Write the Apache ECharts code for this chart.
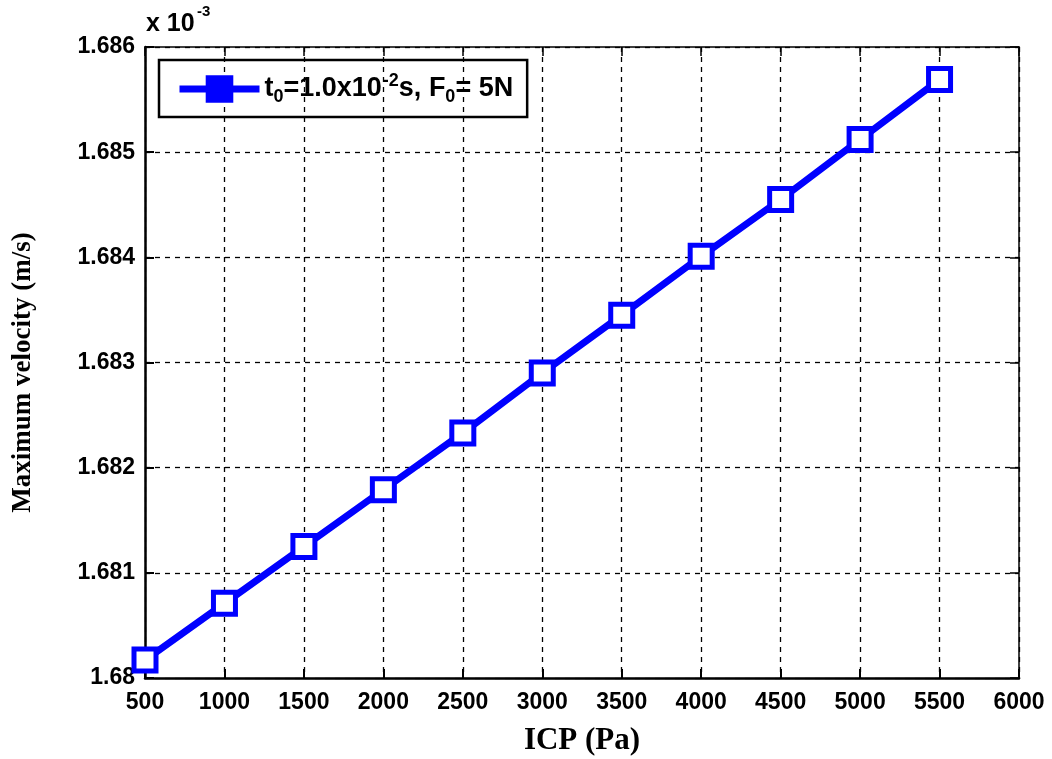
<!DOCTYPE html>
<html>
<head>
<meta charset="utf-8">
<script src="https://cdn.jsdelivr.net/npm/echarts@6/dist/echarts.min.js"></script>
<style>html,body{margin:0;padding:0;background:#fff}#c{width:1052px;height:759px}</style>
</head>
<body>
<div id="c"></div>
<script>
const icp = [500, 1000, 1500, 2000, 2500, 3000, 3500, 4000, 4500, 5000, 5500];
const maxVelocity = [1.68017, 1.68071, 1.68125, 1.68179, 1.68233, 1.68290, 1.68345, 1.68401, 1.68455, 1.68512, 1.68569];
const xTicks = [500, 6000, 500];
const yTicks = [1.680, 1.686, 0.001];
const seriesName = 'series';

const chart = echarts.init(document.getElementById('c'));
const tickFont = {color: '#000', fontFamily: 'Liberation Sans, Arial', fontWeight: 'bold', fontSize: 23};
const grid = {left: 145, right: 33, top: 47, bottom: 81, containLabel: false, outerBoundsMode: 'none'};
const split = {show: true, lineStyle: {color: '#000', type: [5, 5], width: 1.3}};
chart.setOption({
  animation: false,
  backgroundColor: '#fff',
  grid: grid,
  legend: {
    left: 159, top: 60,
    data: [{name: seriesName, itemStyle: {color: '#0000ff', borderColor: '#0000ff', borderWidth: 2}}],
    borderColor: '#000', borderWidth: 2.5,
    padding: [12, 14, 11, 17],
    itemWidth: 80, itemHeight: 32, itemGap: 8,
    lineStyle: {width: 7, color: '#0000ff'},
    formatter: function(){ return '{n|t}{s|0}{n|=1.0x10}{p|-2}{n|s, F}{s|0}{n|= 5N}'; },
    textStyle: {
      rich: {
        n: {fontFamily: 'Liberation Sans, Arial', fontWeight: 'bold', fontSize: 27, color: '#000'},
        s: {fontFamily: 'Liberation Sans, Arial', fontWeight: 'bold', fontSize: 18, color: '#000', verticalAlign: 'bottom', padding: [16, 0, 0, 0]},
        p: {fontFamily: 'Liberation Sans, Arial', fontWeight: 'bold', fontSize: 18, color: '#000', verticalAlign: 'top', padding: [0, 0, 16, 1]}
      }
    }
  },
  xAxis: [{
    type: 'value', min: xTicks[0], max: xTicks[1], interval: xTicks[2],
    name: 'ICP (Pa)', nameLocation: 'middle', nameGap: 47,
    nameTextStyle: {fontFamily: 'Liberation Serif, Times New Roman', fontWeight: 'bold', fontSize: 31, color: '#000'},
    axisLine: {onZero: false, lineStyle: {color: '#000', width: 2.5}},
    axisTick: {inside: true, length: 9, lineStyle: {color: '#000', width: 2}},
    axisLabel: Object.assign({margin: 13, formatter: function(v){ return String(v); }}, tickFont),
    splitLine: split
  }, {
    type: 'value', position: 'top', min: xTicks[0], max: xTicks[1], interval: xTicks[2],
    axisLine: {onZero: false, lineStyle: {color: '#000', width: 1.5}},
    axisTick: {inside: true, length: 9, lineStyle: {color: '#000', width: 1.5}},
    axisLabel: {show: false}, splitLine: {show: false}
  }],
  yAxis: [{
    type: 'value', min: yTicks[0], max: yTicks[1], interval: yTicks[2],
    name: 'Maximum velocity (m/s)', nameLocation: 'middle', nameGap: 108,
    nameTextStyle: {fontFamily: 'Liberation Serif, Times New Roman', fontWeight: 'bold', fontSize: 27, color: '#000', padding: [0, 20, 0, 0]},
    axisLine: {onZero: false, lineStyle: {color: '#000', width: 2.5}},
    axisTick: {inside: true, length: 9, lineStyle: {color: '#000', width: 2}},
    axisLabel: Object.assign({margin: 10, formatter: function(v){ return String(parseFloat(v.toFixed(3))); }}, tickFont),
    splitLine: split
  }, {
    type: 'value', position: 'right', min: yTicks[0], max: yTicks[1], interval: yTicks[2],
    axisLine: {onZero: false, lineStyle: {color: '#000', width: 1.5}},
    axisTick: {inside: true, length: 9, lineStyle: {color: '#000', width: 1.5}},
    axisLabel: {show: false}, splitLine: {show: false}
  }],
  graphic: [{
    type: 'text', left: 146, top: 12,
    style: {text: 'x 10', fontSize: 25, fontWeight: 'bold', fontFamily: 'Liberation Sans, Arial', fill: '#000'}
  }, {
    type: 'text', left: 197, top: 4,
    style: {text: '-3', fontSize: 15, fontWeight: 'bold', fontFamily: 'Liberation Sans, Arial', fill: '#000'}
  }],
  series: [{
    name: seriesName,
    type: 'line',
    data: icp.map((x, i) => [x, maxVelocity[i]]),
    symbol: 'rect', symbolSize: 22,
    lineStyle: {color: '#0000ff', width: 7},
    itemStyle: {color: '#fff', borderColor: '#0000ff', borderWidth: 5},
    z: 5
  }]
});
</script>
</body>
</html>
